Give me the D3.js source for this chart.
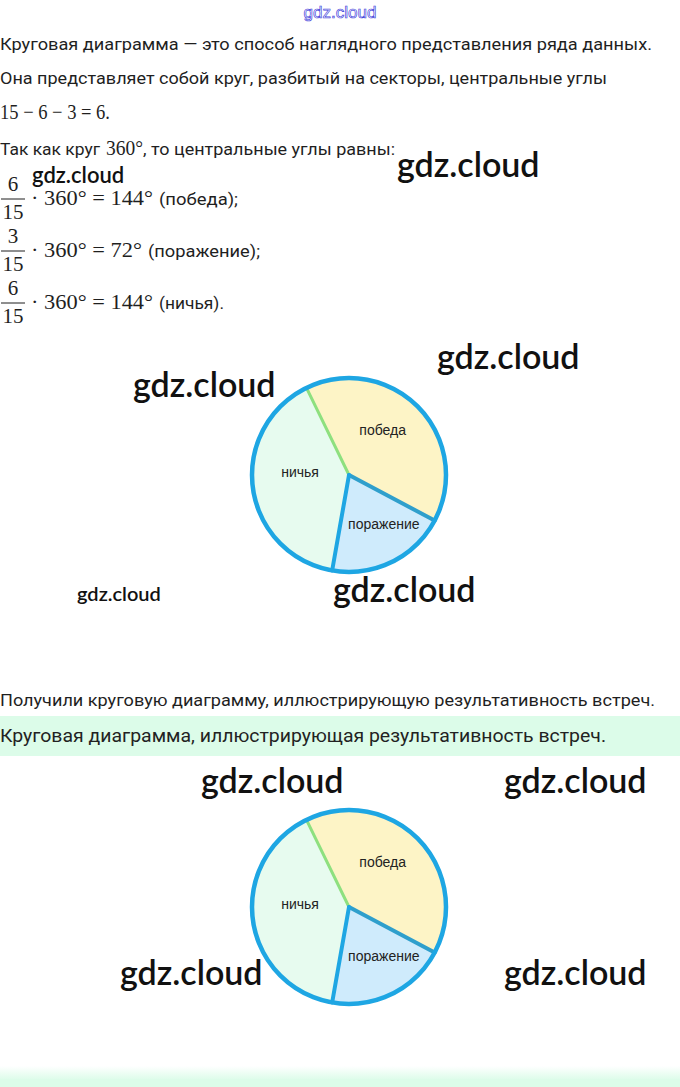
<!DOCTYPE html>
<html><head><meta charset="utf-8">
<script src="https://cdn.jsdelivr.net/npm/d3@7/dist/d3.min.js"></script>
<style>html,body{margin:0;padding:0;background:#fff;overflow:hidden}</style>
</head><body>
<svg id="c" width="680" height="1087"></svg>
<script>
// ---- data ----
const categories = ["победа", "поражение", "ничья"];
const games = [6, 3, 6];
const total = 15;
const angles = [144, 72, 144];
const fills = ["#fdf4c6", "#cfebfc", "#e7fbef"];
const labelNudgeDeg = [-9, -9.5, 11.5];
const labelRadius = [56, 60, 49];

const svg = d3.select("#c");
const SANS = "Roboto, 'Noto Sans', sans-serif";
const SERIF = "'Liberation Serif', 'DejaVu Serif', serif";
const INK = "#1f1f1f";

// background bands
svg.append("rect").attr("x",0).attr("y",716).attr("width",680).attr("height",40).attr("fill","#dcfce9");
const grad = svg.append("defs").append("linearGradient").attr("id","g1").attr("x1",0).attr("x2",0).attr("y1",0).attr("y2",1);
grad.append("stop").attr("offset","0%").attr("stop-color","#ffffff");
grad.append("stop").attr("offset","100%").attr("stop-color","#dcfce9");
svg.append("rect").attr("x",0).attr("y",1066).attr("width",680).attr("height",14).attr("fill","url(#g1)");
svg.append("rect").attr("x",0).attr("y",1079).attr("width",680).attr("height",8).attr("fill","#dcfce9");

function line(txt, x, y, size, len, fam, col){
  const t = svg.append("text").attr("x",x).attr("y",y).attr("font-family",fam||SANS)
    .attr("font-size",size).attr("fill",col||INK).text(txt);
  if (len) t.attr("textLength",len).attr("lengthAdjust","spacingAndGlyphs");
  return t;
}

// top blue outlined watermark
svg.append("text").attr("x",340).attr("y",18).attr("text-anchor","middle")
  .attr("font-family","'Liberation Sans', sans-serif").attr("font-size",17)
  .attr("fill","#ffffff").attr("stroke","#4646dc").attr("stroke-width",0.7).text("gdz.cloud");

line("Круговая диаграмма — это способ наглядного представления ряда данных.", 0, 50, 17, 652);
line("Она представляет собой круг, разбитый на секторы, центральные углы", 0, 84, 17, 607);

// 15 - 6 - 3 = 6.
line(`${total} − ${games[0]} − ${games[1]} = ${games[2]}.`, 0, 119, 21, 110, SERIF);

// Так как круг 360°
line("Так как круг", 0, 155, 17, 100);
line("360°", 106, 155, 21, 37, SERIF);
line(", то центральные углы равны:", 143, 155, 17, 252);

// fractions rows
const rowBase = [205, 257, 309];
const mathEnd = [153, 142, 153];
const lblLen = [79, 112, 65];
categories.forEach((c,i)=>{
  const yb = rowBase[i];
  svg.append("text").attr("x",13).attr("y",yb-14).attr("text-anchor","middle")
    .attr("font-family",SERIF).attr("font-size",21).attr("fill",INK).text(games[i]);
  svg.append("line").attr("x1",1).attr("x2",25).attr("y1",yb-6).attr("y2",yb-6)
    .attr("stroke",INK).attr("stroke-width",1);
  svg.append("text").attr("x",13).attr("y",yb+14).attr("text-anchor","middle")
    .attr("font-family",SERIF).attr("font-size",21).attr("fill",INK).text(total);
  line(`· 360° = ${angles[i]}°`, 31, yb, 21, mathEnd[i]-31, SERIF);
  line(i<2 ? `(${c});` : `(${c}).`, mathEnd[i]+6, yb, 17, lblLen[i]);
});

line("Получили круговую диаграмму, иллюстрирующую результативность встреч.", 0, 706, 17, 655);
line("Круговая диаграмма, иллюстрирующая результативность встреч.", 0, 742, 18, 606, SANS, "#222");

// ---- pies ----
const R = 97;
const start = -26 * Math.PI/180;
const pie = d3.pie().sort(null).startAngle(start).endAngle(start + 2*Math.PI);
const arcs = pie(games);
const arc = d3.arc().innerRadius(0).outerRadius(R);
const sepColors = ["#8ee07f", "#2f9fcc", "#1ea6e3"]; // at start of slice i

function labelPos(d, i){
  const a = (d.startAngle + d.endAngle)/2 + labelNudgeDeg[i]*Math.PI/180;
  const r = labelRadius[i];
  return [r*Math.sin(a), -r*Math.cos(a)];
}

function drawPie(cx, cy){
  const g = svg.append("g").attr("transform",`translate(${cx},${cy})`);
  g.selectAll("path.s").data(arcs).join("path").attr("class","s")
    .attr("d",arc).attr("fill",(d,i)=>fills[i]);
  g.selectAll("line.sep").data(arcs).join("line").attr("class","sep")
    .attr("x1",0).attr("y1",0)
    .attr("x2",d=>R*Math.sin(d.startAngle)).attr("y2",d=>-R*Math.cos(d.startAngle))
    .attr("stroke",(d,i)=>sepColors[i]).attr("stroke-width",(d,i)=>i===0?3:4)
    .attr("stroke-linecap","round");
  g.append("circle").attr("r",R).attr("fill","none").attr("stroke","#1ea6e3").attr("stroke-width",4.5);
  g.selectAll("text").data(arcs).join("text")
    .attr("transform",(d,i)=>`translate(${labelPos(d,i)})`)
    .attr("text-anchor","middle").attr("dy","0.35em")
    .attr("font-family","'Liberation Sans', Arial, sans-serif").attr("font-size",14)
    .attr("fill","#222").text((d,i)=>categories[i]);
}
drawPie(349, 475);
drawPie(349, 907);

// watermarks
const WM = [[397,177,34],[437,369,34],[133,397,34],[333,602,34],[201,793,34],[504,793,34],[120,985,34],[504,985,34],[32,183,22],[77,601,20]];
WM.forEach(w=>{
  svg.append("text").attr("x",w[0]).attr("y",w[1]).attr("font-family","Lato, sans-serif")
    .attr("font-weight",600).attr("font-size",w[2]).attr("fill","#111").text("gdz.cloud");
});
</script>
</body></html>
